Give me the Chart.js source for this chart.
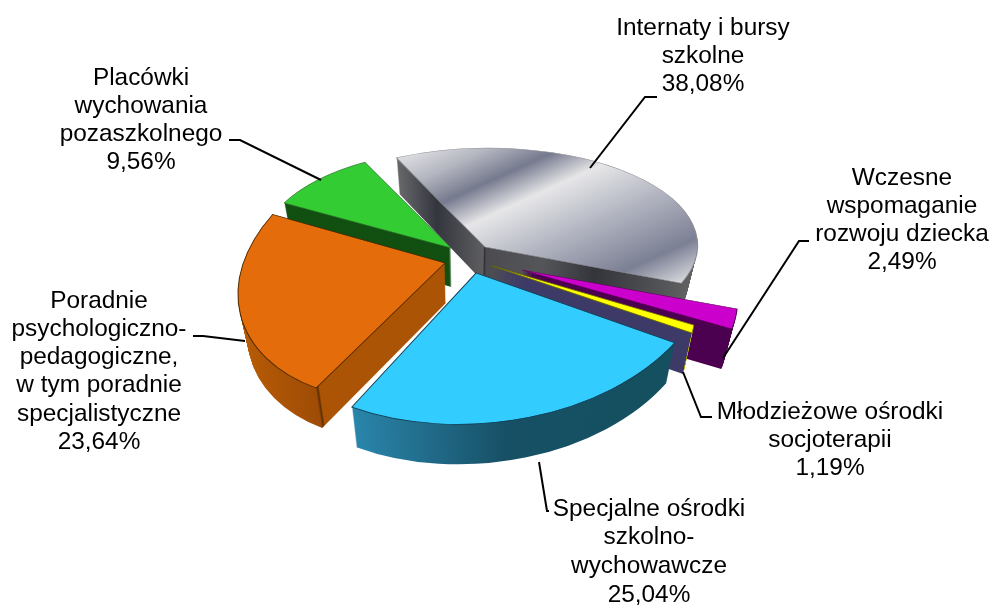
<!DOCTYPE html>
<html>
<head>
<meta charset="utf-8">
<title>Wykres</title>
<script src="https://cdn.jsdelivr.net/npm/chart.js@4"></script>
<style>
    html, body { margin: 0; padding: 0; background: #fff; }
    #chartBox { width: 990px; height: 606px; }
</style>
</head>
<body>
<div id="chartBox"><canvas id="chart" width="990" height="606"></canvas></div>
<script>
(function () {

    'use strict';

    const categories = ['Internaty i bursy szkolne', 'Wczesne wspomaganie rozwoju dziecka', 'Młodzieżowe ośrodki socjoterapii',
        'Specjalne ośrodki szkolno-wychowawcze', 'Poradnie psychologiczno-pedagogiczne, w tym poradnie specjalistyczne', 'Placówki wychowania pozaszkolnego'];
    const shares = [38.08, 2.49, 1.19, 25.04, 23.64, 9.56];
    const labelLines = [
        ['Internaty i bursy', 'szkolne', '38,08%'],
        ['Wczesne', 'wspomaganie', 'rozwoju dziecka', '2,49%'],
        ['Młodzieżowe ośrodki', 'socjoterapii', '1,19%'],
        ['Specjalne ośrodki', 'szkolno-', 'wychowawcze', '25,04%'],
        ['Poradnie', 'psychologiczno-', 'pedagogiczne,', 'w tym poradnie', 'specjalistyczne', '23,64%'],
        ['Placówki', 'wychowania', 'pozaszkolnego', '9,56%']
    ];

    const topColors = ['#b8bac4', '#cc00cc', '#ffff00', '#33ccff', '#e46c0a', '#33cc33'];
    const edgeColors = ['#8a8a90', '#5a005a', '#6a6a00', '#123c50', '#4a2800', '#2c6a2c'];

    // pie look
    const radius = 208;
    const startAngle = -28;
    const drawOrder = [0, 5, 4, 1, 2, 3];

    // exploded slices: how far each one is pulled from the middle of the pie
    const centerX = 467;
    const centerY = 260;
    const pullX = [18, 55, 25, 9, -22, -16];
    const pullY = [-13, 10, 6, 13, 3, -12];

    // 3D look: each slice gets its own flattening, the view is not the same all round the pie
    const viewA = [1.02, 1.002, 0.895, 1.126, 0.99, 0.915];
    const viewB = [0.02, -0.029, 0, -0.062, -0.082, 0];
    const viewC = [-0.06, 0.266, 0.384, 0.009, -0.104, -0.018];
    const viewD = [0.475, 0.658, 0.603, 0.725, 0.66, 0.467];
    const depths = [36, 40, 41, 40, 40, 39];
    const converge = 0.04;

    // where the label block sits, x is the middle of the text, y the middle of line one
    const labelX = [703, 902, 830, 649, 99, 141];
    const labelY = [28, 178, 412, 509, 301, 78];
    const lineStep = [28, 28, 28, 28.6, 28.2, 28];
    const leaders = [
        [[590, 168], [645, 97], [657, 97]],
        [[723, 358], [799, 241], [809, 241]],
        [[683, 372], [701, 417], [712, 417]],
        [[539, 462], [547, 511], [549, 511]],
        [[245, 341], [203, 336], [193, 336]],
        [[321, 180], [240, 140], [229, 140]]
    ];

    function slicePlacement(arc, i) {
        const m = new DOMMatrix([viewA[i], viewB[i], viewC[i], viewD[i], centerX + pullX[i], centerY + pullY[i]]);
        return m.multiply(new DOMMatrix().translate(-arc.x, -arc.y));
    }

    // gradient given in page pixels, turned back into the slice's own coordinates
    function pageGradient(ctx, m, x0, y0, x1, y1, stops) {
        const dx = x1 - x0, dy = y1 - y0, len = dx * dx + dy * dy;
        const nx = dx / len, ny = dy / len;
        const mx = m.a * nx + m.b * ny, my = m.c * nx + m.d * ny;
        const c = nx * (m.e - x0) + ny * (m.f - y0);
        const mm = mx * mx + my * my;
        const g = ctx.createLinearGradient(-c * mx / mm, -c * my / mm, (1 - c) * mx / mm, (1 - c) * my / mm);
        stops.forEach((s) => g.addColorStop(s[0], s[1]));
        return g;
    }

    function wallPaint(ctx, m, i) {
        if (i == 0) {
            return pageGradient(ctx, m, 395, 0, 690, 0, [[0, '#6a6a6c'], [0.14, '#34363f'], [0.3, '#5e5e60'], [0.303, '#2e2e32'], [0.31, '#4c4c50'], [0.5, '#55565a'], [0.68, '#33353b'], [1, '#606062']]);
        }
        if (i == 1) {
            return '#4c0050';
        }
        if (i == 2) {
            return pageGradient(ctx, m, 480, 0, 695, 0, [[0, '#3d3a68'], [0.984, '#3d3a68'], [0.986, '#a8a800'], [1, '#a8a800']]);
        }
        if (i == 3) {
            return pageGradient(ctx, m, 350, 0, 680, 0, [[0, '#2a86ac'], [0.475, '#175066'], [1, '#14505f']]);
        }
        if (i == 4) {
            return pageGradient(ctx, m, 236, 0, 445, 0, [[0, '#b85c06'], [0.38, '#9e4c05'], [0.39, '#5a3000'], [0.397, '#ac5405'], [1, '#ac5405']]);
        }
        return '#125012';
    }

    function topPaint(ctx, m, i) {
        if (i == 0) {
            // brushed metal bands
            return pageGradient(ctx, m, 128.6, 282.1, 224.9, 493.2, [[0, '#dcdde0'], [0.12, '#b4b6c0'], [0.25, '#767a8e'], [0.386, '#e6e6e8'], [0.61, '#b0b3bf'], [0.844, '#7c8094'], [1, '#dcdde0']]);
        }
        return topColors[i];
    }

    const piePlugin = {
        id: 'pie3d',
        beforeDatasetsDraw(chart) {
            const ctx = chart.ctx;
            const arcs = chart.getDatasetMeta(0).data;
            drawOrder.forEach((i) => {
                const arc = arcs[i];
                const m = slicePlacement(arc, i);
                const paint = wallPaint(ctx, m, i);
                const wall = Object.create(arc);
                wall.options = { backgroundColor: paint, borderColor: paint, borderWidth: 0, offset: 0, spacing: 0, borderRadius: 0, circular: true };
                for (let step = depths[i]; step > 0; step--) {
                    const shrink = 1 - converge * step / depths[i];
                    ctx.save();
                    ctx.translate(centerX, step);
                    ctx.scale(shrink, 1);
                    ctx.translate(-centerX, 0);
                    ctx.transform(m.a, m.b, m.c, m.d, m.e, m.f);
                    arc.draw.call(wall, ctx);
                    ctx.restore();
                }
                const top = Object.create(arc);
                top.options = { backgroundColor: topPaint(ctx, m, i), borderColor: edgeColors[i], borderWidth: 1, borderAlign: 'center', borderJoinStyle: 'miter', offset: 0, spacing: 0, borderRadius: 0, circular: true };
                ctx.save();
                ctx.transform(m.a, m.b, m.c, m.d, m.e, m.f);
                arc.draw.call(top, ctx);
                ctx.restore();
            });
            return false;
        },
        afterDraw(chart) {
            const ctx = chart.ctx;
            ctx.save();
            ctx.strokeStyle = '#000';
            ctx.lineWidth = 2;
            leaders.forEach((pts) => {
                ctx.beginPath();
                pts.forEach((p, n) => (n == 0 ? ctx.moveTo(p[0], p[1]) : ctx.lineTo(p[0], p[1])));
                ctx.stroke();
            });
            ctx.fillStyle = '#000';
            ctx.font = '24.4px "Liberation Sans"';
            ctx.textAlign = 'center';
            ctx.textBaseline = 'middle';
            labelLines.forEach((lines, i) => {
                lines.forEach((line, n) => ctx.fillText(line, labelX[i], labelY[i] + n * lineStep[i]));
            });
            ctx.restore();
        }
    };

    window.addEventListener('load', init);

    function init() {
        new Chart(document.getElementById('chart'), {
            type: 'pie',
            data: {
                labels: categories,
                datasets: [{ data: shares, backgroundColor: topColors, borderWidth: 0 }]
            },
            options: {
                responsive: false,
                animation: false,
                devicePixelRatio: 1,
                radius: radius,
                rotation: startAngle,
                plugins: { legend: { display: false }, tooltip: { enabled: false } }
            },
            plugins: [piePlugin]
        });
    }

})();
</script>
</body>
</html>
